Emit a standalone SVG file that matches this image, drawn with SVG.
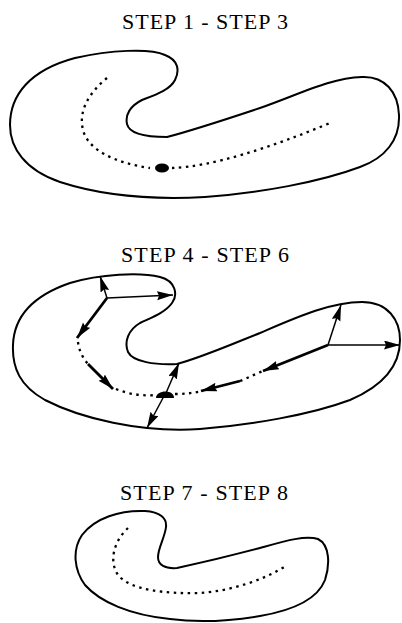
<svg xmlns="http://www.w3.org/2000/svg" width="402" height="623" viewBox="0 0 402 623">
<defs>
<style>
.title{font-family:"Liberation Serif","Times New Roman",serif;font-size:22px;fill:#000}
.outline{fill:none;stroke:#000;stroke-width:2}
.dots{fill:none;stroke:#000;stroke-width:2.3;stroke-dasharray:2.5 4.5}
.arr{fill:none;stroke:#000;stroke-width:1.5;marker-end:url(#ah)}
.arrT{fill:none;stroke:#000;stroke-width:2.8;marker-end:url(#ah)}
</style>
<marker id="ah" markerUnits="userSpaceOnUse" markerWidth="18" markerHeight="10" refX="16" refY="4.5" orient="auto">
<path d="M0,0 L16,4.5 L0,9 L2,4.5 Z" fill="#000"/>
</marker>
</defs>
<g id="step1-3">
<text class="title" x="205" y="29" text-anchor="middle" textLength="166" lengthAdjust="spacing">STEP 1 - STEP 3</text>
<path class="outline" d="M167,137 C190,131 230,118 260,108 C300,94 330,78 362,77 C385,76 398,92 399,115 C400,140 385,158 360,167 C320,182 260,193 205,197 C150,200 100,195 60,182 C25,170 10,148 10,125 C10,95 30,70 75,58 C110,50 150,48 165,55 C178,60 180,70 175,80 C170,90 155,95 142,100 C130,106 125,115 127,124 C129,133 145,137 167,137 Z"/>
<path class="dots" d="M107,78 C90,92 78,110 83,130 C88,150 115,163 150,168"/>
<path class="dots" d="M172,168 C210,167 270,148 330,123"/>
<ellipse cx="162" cy="168" rx="7" ry="4.5" fill="#000"/>
</g>
<g id="step4-6">
<text class="title" x="205" y="262" text-anchor="middle" textLength="168" lengthAdjust="spacing">STEP 4 - STEP 6</text>
<path class="outline" d="M177,364 C200,358 230,345 260,333 C295,318 330,302 362,302 C388,302 400,320 400,340 C400,365 385,385 350,400 C310,415 250,425 200,429 C140,433 80,418 45,400 C20,386 12,368 13,345 C14,315 35,295 70,283 C100,274 140,272 160,277 C176,281 178,295 172,303 C165,313 150,318 140,323 C128,330 124,342 128,352 C133,362 155,365 177,364 Z"/>
<path class="dots" d="M78,342 C79,350 82,357 88,364"/>
<path class="dots" d="M116,389 C130,395 145,396 157,395"/>
<path class="dots" d="M175,394 C185,394 193,393 203,391"/>
<path class="dots" d="M240,381 C248,378 255,374 263,371"/>
<path d="M156,398 C156,390 174,389 174,398 Z" fill="#000"/>
</g>
<g id="connectors">
<line class="arr" x1="107" y1="298" x2="100" y2="276"/>
<line class="arr" x1="107" y1="298" x2="173" y2="295"/>
<line class="arrT" x1="107" y1="298" x2="77" y2="338"/>
<line class="arrT" x1="88" y1="364" x2="113" y2="389"/>
<line class="arr" x1="166" y1="393" x2="179" y2="363"/>
<line class="arr" x1="164" y1="396" x2="147" y2="428"/>
<line class="arrT" x1="240" y1="381" x2="201" y2="391"/>
<line class="arrT" x1="328" y1="345" x2="263" y2="371"/>
<line class="arr" x1="328" y1="345" x2="400" y2="345"/>
<line class="arr" x1="328" y1="345" x2="341" y2="305"/>
</g>
<g id="step7-8">
<text class="title" x="204" y="500" text-anchor="middle" textLength="168" lengthAdjust="spacing">STEP 7 - STEP 8</text>
<path class="outline" d="M177,568 C200,563 230,556 260,548 C285,541 305,535 318,539 C330,545 330,565 325,580 C318,598 295,610 260,616 C230,621 200,623 170,619 C130,615 100,602 85,585 C74,570 72,550 82,535 C95,518 120,510 145,511 C160,512 167,518 166,527 C165,537 158,548 158,557 C158,565 165,569 177,568 Z"/>
<path class="dots" d="M128,528 C115,540 108,560 118,575 C130,590 165,594 200,593 C230,591 265,580 287,565"/>
</g>
</svg>
